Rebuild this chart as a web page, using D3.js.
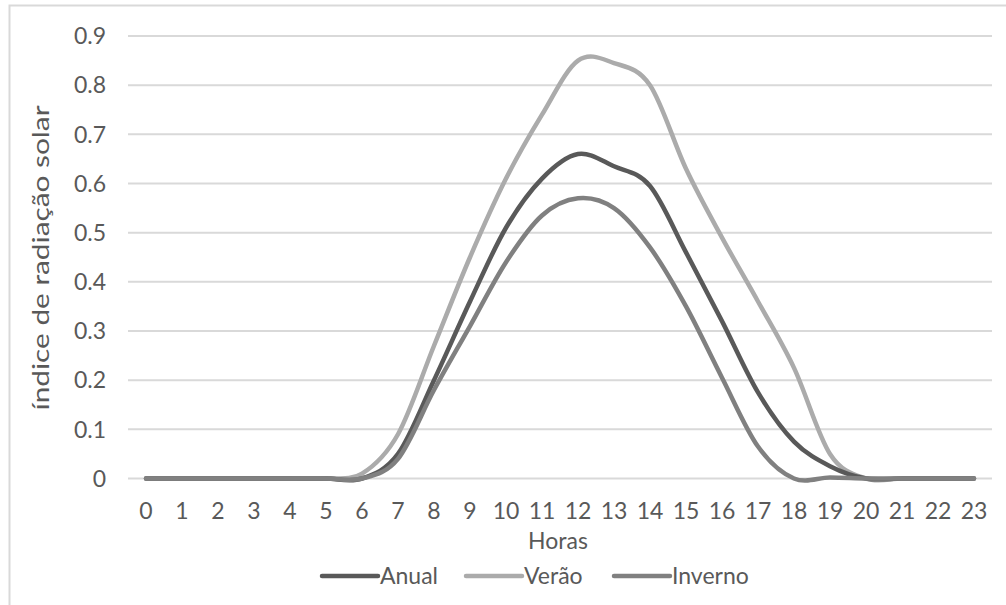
<!DOCTYPE html>
<html>
<head>
<meta charset="utf-8">
<script src="https://cdn.jsdelivr.net/npm/d3@7"></script>
<style>
  html, body { margin: 0; padding: 0; background: #fff; }
  svg { display: block; }
  text { font-family: Lato, "Noto Sans", sans-serif; fill: #595959; }
</style>
</head>
<body>
<svg id="chart" width="1006" height="605"></svg>
<script>
// Hours of the day (category axis)
const hours = d3.range(0, 24).map(String);

// Solar radiation index per hour
const anual   = [0,0,0,0,0,0,0,0.05,0.2,0.36,0.51,0.61,0.66,0.635,0.595,0.46,0.32,0.175,0.075,0.025,0,0,0,0];
const verao   = [0,0,0,0,0,0,0.01,0.09,0.27,0.45,0.61,0.74,0.85,0.845,0.80,0.63,0.49,0.36,0.225,0.05,0,0,0,0];
const inverno = [0,0,0,0,0,0,0,0.04,0.18,0.31,0.44,0.535,0.57,0.55,0.47,0.35,0.205,0.065,0,0.002,0,0,0,0];

const yTicks = [0, 0.1, 0.2, 0.3, 0.4, 0.5, 0.6, 0.7, 0.8, 0.9];

const seriesNames  = ["Anual", "Verão", "Inverno"];
const seriesValues = [anual, verao, inverno];
const seriesColors = ["#595959", "#ababab", "#808080"];

const svg = d3.select("#chart");

// Outer frame (top and left edges)
svg.append("path")
  .attr("d", "M9.5,605 L9.5,5.5 L1006,5.5")
  .attr("fill", "none")
  .attr("stroke", "#d9d9d9")
  .attr("stroke-width", 2);

const plot = { left: 128, right: 992, top: 36, bottom: 478.5 };

const x = d3.scaleBand().domain(hours).range([plot.left, plot.right]);
const y = d3.scaleLinear().domain([0, 0.9]).range([plot.bottom, plot.top]);

// Gridlines
svg.append("g")
  .selectAll("line")
  .data(yTicks)
  .join("line")
  .attr("x1", plot.left)
  .attr("x2", plot.right)
  .attr("y1", d => y(d))
  .attr("y2", d => y(d))
  .attr("stroke", "#d9d9d9")
  .attr("stroke-width", 2);

// Y tick labels
svg.append("g")
  .selectAll("text")
  .data(yTicks)
  .join("text")
  .attr("x", 106)
  .attr("y", d => y(d))
  .attr("dy", "0.36em")
  .attr("text-anchor", "end")
  .attr("font-size", 23)
  .text(d => d === 0 ? "0" : d3.format(".1f")(d));

// X tick labels
svg.append("g")
  .selectAll("text")
  .data(hours)
  .join("text")
  .attr("x", d => x(d) + x.bandwidth() / 2)
  .attr("y", 519)
  .attr("text-anchor", "middle")
  .attr("font-size", 23)
  .text(d => d);

// Axis titles
svg.append("text")
  .attr("x", 558)
  .attr("y", 549)
  .attr("text-anchor", "middle")
  .attr("font-size", 23)
  .text("Horas");

svg.append("text")
  .attr("transform", "translate(49,258) rotate(-90)")
  .attr("text-anchor", "middle")
  .attr("font-size", 24)
  .attr("textLength", 305)
  .attr("lengthAdjust", "spacingAndGlyphs")
  .text("índice de radiação solar");

// Smoothed series lines
const line = d3.line()
  .x((d, i) => x(hours[i]) + x.bandwidth() / 2)
  .y(d => y(d))
  .curve(d3.curveCatmullRom.alpha(0));

const order = [1, 0, 2];
svg.append("g")
  .selectAll("path")
  .data(order)
  .join("path")
  .attr("d", k => line(seriesValues[k]))
  .attr("fill", "none")
  .attr("stroke", k => seriesColors[k])
  .attr("stroke-width", 4.5)
  .attr("stroke-linejoin", "round")
  .attr("stroke-linecap", "round");

// Legend
const legendX = [322, 466, 614];
const legend = svg.append("g");
seriesNames.forEach((name, i) => {
  legend.append("line")
    .attr("x1", legendX[i])
    .attr("x2", legendX[i] + 56)
    .attr("y1", 576)
    .attr("y2", 576)
    .attr("stroke", seriesColors[i])
    .attr("stroke-width", 4.5)
    .attr("stroke-linecap", "round");
  legend.append("text")
    .attr("x", legendX[i] + 58)
    .attr("y", 576)
    .attr("dy", "0.36em")
    .attr("font-size", 23)
    .text(name);
});
</script>
</body>
</html>
